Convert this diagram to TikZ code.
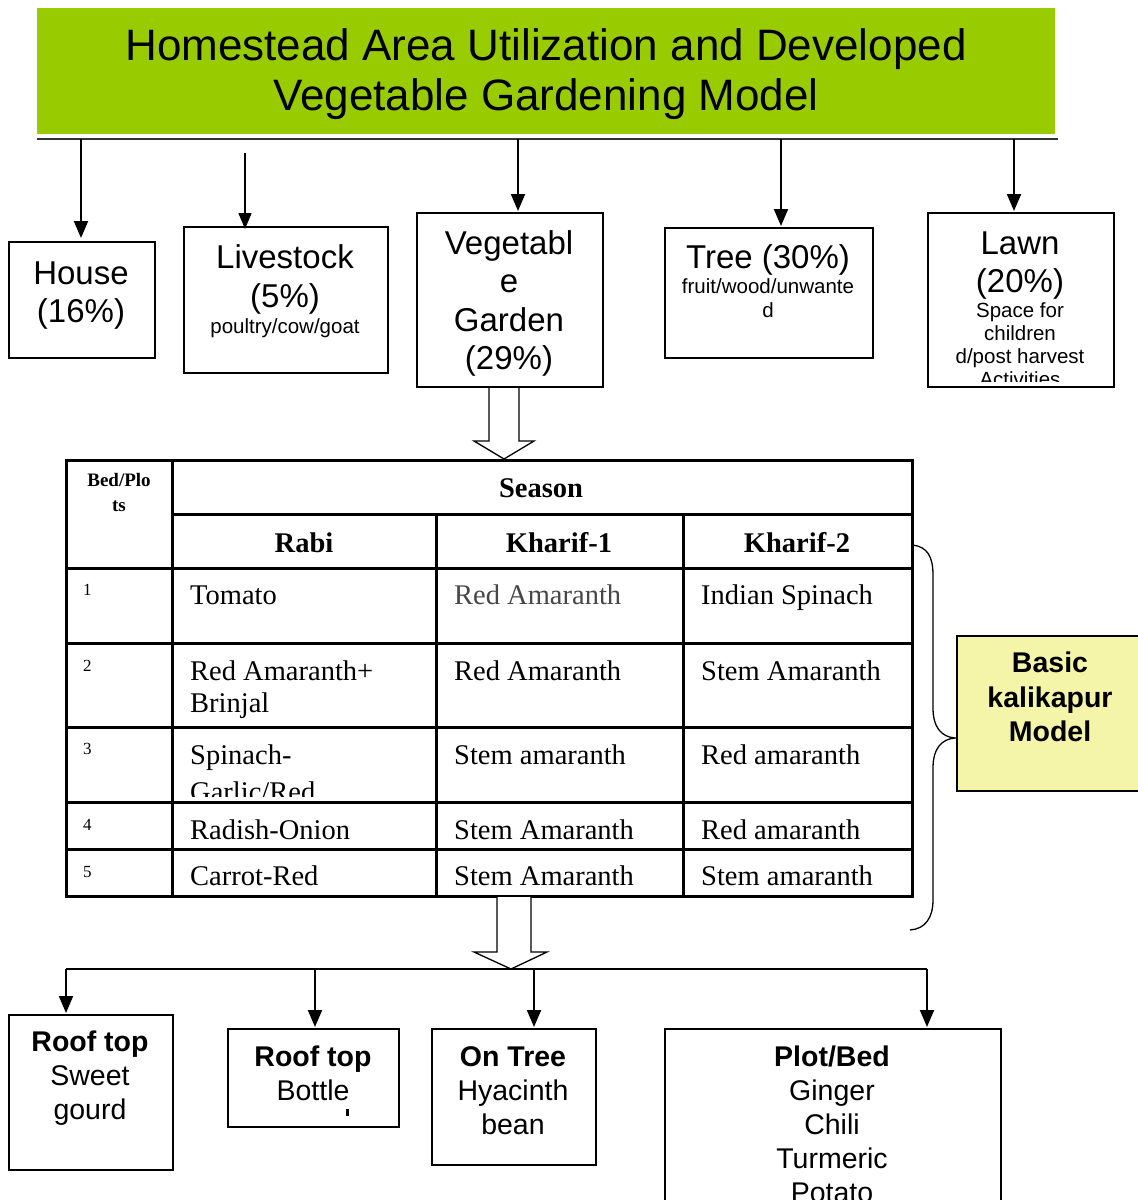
\documentclass[tikz,border=0pt]{standalone}
\usepackage{fontspec}
\setmainfont{Liberation Serif}
\setsansfont{Liberation Sans}
\usetikzlibrary{arrows.meta}
\definecolor{titlegreen}{HTML}{99CC00}
\definecolor{modelyellow}{HTML}{F4F5A9}
\begin{document}
\begin{tikzpicture}[x=1pt,y=-1pt,
  box/.style={draw, line width=2.2pt, inner sep=0pt, anchor=north west},
  arr/.style={line width=2pt, -{Triangle[width=14pt,length=17pt]}},
  thinarr/.style={line width=1.5pt, -{Triangle[width=13pt,length=16pt]}},
  tline/.style={line width=3pt},
  hollow/.style={draw, line width=1.3pt, fill=white},
  tt/.style={anchor=base, inner sep=0pt, font=\sffamily\fontsize{44}{50}\selectfont},
  big/.style={anchor=base, inner sep=0pt, font=\sffamily\fontsize{33}{38}\selectfont},
  small/.style={anchor=base, inner sep=0pt, font=\sffamily\fontsize{20.5}{23}\selectfont},
  bot/.style={anchor=base, inner sep=0pt, font=\sffamily\fontsize{28.5}{34}\selectfont},
  botb/.style={anchor=base, inner sep=0pt, font=\sffamily\bfseries\fontsize{28.5}{34}\selectfont},
  cell/.style={anchor=base west, inner sep=0pt, font=\fontsize{28.5}{32}\selectfont},
  head/.style={anchor=base, inner sep=0pt, font=\bfseries\fontsize{28.5}{32}\selectfont},
  num/.style={anchor=base west, inner sep=0pt, font=\fontsize{17}{20}\selectfont},
]
\clip (0,0) rectangle (1138,1200);
\fill[white] (0,0) rectangle (1138,1200);

% title
\node[fill=titlegreen, minimum width=1018pt, minimum height=126pt, inner sep=0pt, anchor=north west] (title) at (37,8) {};
\node[tt] (t1) at (546,60) {Homestead Area Utilization and Developed};
\node[tt] (t2) at (546,110) {Vegetable Gardening Model};
\coordinate (barL) at (37,139);
\coordinate (barR) at (1058,139);
\draw[line width=1.8pt, black!80] (barL) -- (barR);

% top boxes
\node[box, minimum width=146pt, minimum height=116pt] (house) at (8,241) {};
\node[big] (houseA) at (81,284) {House};
\node[big] (houseB) at (81,322) {(16\%)};

\node[box, minimum width=204pt, minimum height=146pt] (live) at (183,226) {};
\node[big] (liveA) at (285,268) {Livestock};
\node[big] (liveB) at (285,307) {(5\%)};
\node[small] (liveC) at (285,333) {poultry/cow/goat};

\node[box, minimum width=186pt, minimum height=174pt] (veg) at (416,212) {};
\node[big] (vegA) at (509,254) {Vegetabl};
\node[big] (vegB) at (509,292.5) {e};
\node[big] (vegC) at (509,331) {Garden};
\node[big] (vegD) at (509,369.5) {(29\%)};

\node[box, minimum width=208pt, minimum height=130pt] (tree) at (664,227) {};
\node[big] (treeA) at (768,268) {Tree (30\%)};
\node[small] (treeB) at (768,293) {fruit/wood/unwante};
\node[small] (treeC) at (768,317) {d};

\node[box, minimum width=186pt, minimum height=174pt] (lawn) at (927,212) {};
\node[big] (lawnA) at (1020,254) {Lawn};
\node[big] (lawnB) at (1020,292) {(20\%)};
\node[small] (lawnC) at (1020,317) {Space for};
\node[small] (lawnD) at (1020,340) {children};
\node[small] (lawnE) at (1020,363) {d/post harvest};
\begin{scope}
\clip (928,213) rectangle (1112,381);
\node[small] (lawnF) at (1020,386) {Activities};
\end{scope}

% top arrows
\coordinate (aHouse) at (81,139);
\coordinate (aLive) at (245,153);
\coordinate (aVeg) at (518,139);
\coordinate (aTree) at (781,139);
\coordinate (aLawn) at (1014,139);
\draw[arr] (aHouse) -- (81,238);
\draw[thinarr] (aLive) -- (245,229);
\draw[arr] (aVeg) -- (518,211);
\draw[arr] (aTree) -- (781,226);
\draw[arr] (aLawn) -- (1014,211);

% hollow arrow veg -> table
\draw[hollow] (489,388) -- (489,441) -- (474,441) -- (504,459) -- (534,441) -- (519,441) -- (519,388);

% table
\coordinate (tNW) at (66,460);
\coordinate (tSE) at (912,896);
\draw[tline] (tNW) rectangle (tSE);
\draw[tline] (172,460) -- (172,896);
\draw[tline] (436,514) -- (436,896);
\draw[tline] (683,514) -- (683,896);
\draw[tline] (172,514) -- (912,514);
\foreach \yy in {568,643,727,802,849} \draw[tline] (66,\yy) -- (912,\yy);

\node[anchor=base, inner sep=0pt, font=\bfseries\fontsize{19}{22}\selectfont] (bed1) at (119,486) {Bed/Plo};
\node[anchor=base, inner sep=0pt, font=\bfseries\fontsize{19}{22}\selectfont] (bed2) at (119,511) {ts};
\node[head] (season) at (541,497) {Season};
\node[head] (rabi) at (304,552) {Rabi};
\node[head] (kh1) at (559,552) {Kharif-1};
\node[head] (kh2) at (797,552) {Kharif-2};

\node[num] (n1) at (83,595) {1};
\node[num] (n2) at (83,671) {2};
\node[num] (n3) at (83,754) {3};
\node[num] (n4) at (83,830) {4};
\node[num] (n5) at (83,877) {5};

\node[cell] (c11) at (190,604) {Tomato};
\node[cell, text=black!72] (c12) at (454,604) {Red Amaranth};
\node[cell] (c13) at (701,604) {Indian Spinach};

\node[cell] (c21) at (190,680) {Red Amaranth+};
\node[cell] (c21b) at (190,712) {Brinjal};
\node[cell] (c22) at (454,680) {Red Amaranth};
\node[cell] (c23) at (701,680) {Stem Amaranth};

\node[cell] (c31) at (190,764) {Spinach-};
\begin{scope}
\clip (174,770) rectangle (434,796);
\node[cell] (c31b) at (190,801) {Garlic/Red};
\end{scope}
\node[cell] (c32) at (454,764) {Stem amaranth};
\node[cell] (c33) at (701,764) {Red amaranth};

\node[cell] (c41) at (190,839) {Radish-Onion};
\node[cell] (c42) at (454,839) {Stem Amaranth};
\node[cell] (c43) at (701,839) {Red amaranth};

\node[cell] (c51) at (190,885) {Carrot-Red};
\node[cell] (c52) at (454,885) {Stem Amaranth};
\node[cell] (c53) at (701,885) {Stem amaranth};

% brace
\coordinate (brTop) at (913,545);
\coordinate (brTip) at (955,738);
\coordinate (brBot) at (910,930);
\draw[line width=1.3pt] (brTop) .. controls (927,547) and (933,556) .. (933,575)
  -- (933,708) .. controls (933,728) and (942,737) .. (brTip)
  .. controls (942,739) and (933,748) .. (933,768)
  -- (933,900) .. controls (933,918) and (925,929) .. (brBot);

% model box
\node[box, fill=modelyellow, line width=1.5pt, minimum width=190pt, minimum height=155pt] (model) at (956,635) {};
\node[anchor=base, inner sep=0pt, font=\sffamily\bfseries\fontsize{28.5}{34}\selectfont] (mA) at (1050,672) {Basic};
\node[anchor=base, inner sep=0pt, font=\sffamily\bfseries\fontsize{28.5}{34}\selectfont] (mB) at (1050,707) {kalikapur};
\node[anchor=base, inner sep=0pt, font=\sffamily\bfseries\fontsize{28.5}{34}\selectfont] (mC) at (1050,741) {Model};

% hollow arrow table -> bottom
\draw[hollow] (497,897) -- (497,952) -- (474,952) -- (511,969) -- (547,952) -- (531,952) -- (531,897);

% bottom bar
\coordinate (bL) at (66,969);
\coordinate (bR) at (927,969);
\draw[line width=1.8pt] (bL) -- (bR);

% bottom boxes
\node[box, minimum width=164pt, minimum height=155pt] (rt1) at (8,1014) {};
\node[botb] (rt1a) at (90,1051) {Roof top};
\node[bot] (rt1b) at (90,1085) {Sweet};
\node[bot] (rt1c) at (90,1119) {gourd};

\node[box, minimum width=171pt, minimum height=98pt] (rt2) at (227,1028) {};
\node[botb] (rt2a) at (313,1066) {Roof top};
\node[bot] (rt2b) at (313,1100) {Bottle};
\fill (345.5,1109) rectangle (348.5,1116);

\node[box, minimum width=164pt, minimum height=136pt] (ot) at (431,1028) {};
\node[botb] (ota) at (513,1066) {On Tree};
\node[bot] (otb) at (513,1100) {Hyacinth};
\node[bot] (otc) at (513,1134) {bean};

\node[box, minimum width=336pt, minimum height=190pt] (pb) at (664,1028) {};
\node[botb] (pba) at (832,1066) {Plot/Bed};
\node[bot] (pbb) at (832,1100) {Ginger};
\node[bot] (pbc) at (832,1134) {Chili};
\node[bot] (pbd) at (832,1168) {Turmeric};
\node[bot] (pbe) at (832,1202) {Potato};

\coordinate (b1) at (66,969);
\coordinate (b2) at (315,969);
\coordinate (b3) at (534,969);
\coordinate (b4) at (927,969);
\draw[arr] (b1) -- (66,1013);
\draw[arr] (b2) -- (315,1027);
\draw[arr] (b3) -- (534,1027);
\draw[arr] (b4) -- (927,1027);
\end{tikzpicture}
\end{document}
